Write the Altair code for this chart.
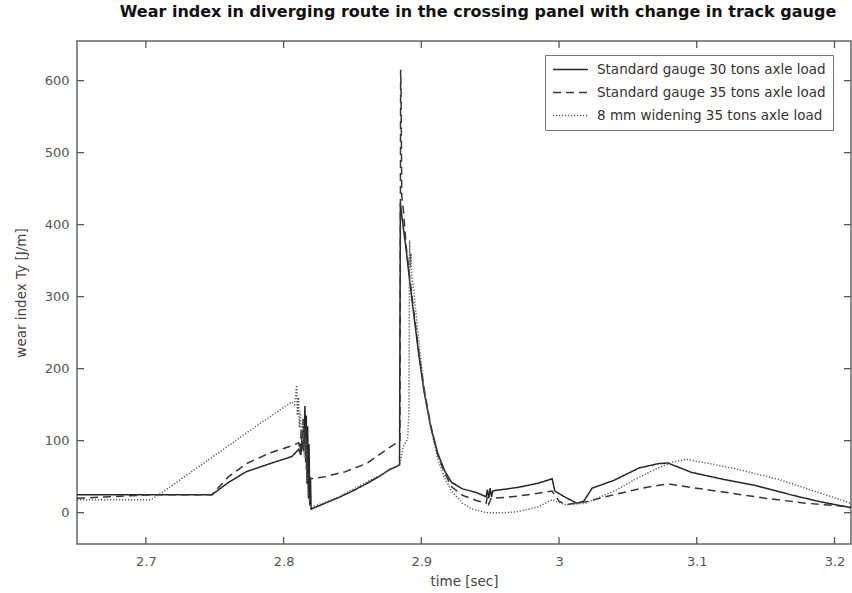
import altair as alt
import pandas as pd

# ---- series: time [sec] vs wear index Ty [J/m] ----
series_names = [
    "Standard gauge 30 tons axle load",
    "Standard gauge 35 tons axle load",
    "8 mm widening 35 tons axle load",
]

t_std30 = [2.65, 2.70, 2.748, 2.76, 2.773, 2.79, 2.806, 2.809, 2.811, 2.8125,
           2.8135, 2.8145, 2.8155, 2.816, 2.8165, 2.817, 2.8175, 2.818, 2.8185,
           2.819, 2.8195, 2.82, 2.83, 2.84, 2.85, 2.86, 2.87, 2.877, 2.882,
           2.8842, 2.8848, 2.886, 2.889, 2.892, 2.895, 2.898, 2.902, 2.907,
           2.912, 2.917, 2.922, 2.93, 2.94, 2.947, 2.948, 2.949, 2.950, 2.951,
           2.952, 2.954, 2.97, 2.985, 2.995, 2.997, 3.003, 3.013, 3.018, 3.024,
           3.04, 3.058, 3.072, 3.079, 3.096, 3.12, 3.142, 3.17, 3.19, 3.212]
ty_std30 = [25, 25, 25, 42, 57, 68, 78, 84, 88, 80,
            100, 85, 148, 70, 135, 40, 120, 20, 95,
            10, 50, 5, 13, 21, 30, 40, 51, 60, 64,
            66, 430, 410, 365, 315, 268, 222, 168, 118,
            82, 58, 42, 33, 28, 22, 32, 20, 34, 22,
            30, 31, 35, 41, 47, 30, 23, 13, 16, 34,
            45, 62, 68, 69, 56, 46, 38, 24, 15, 7]

t_std35 = [2.65, 2.705, 2.748, 2.76, 2.773, 2.79, 2.806, 2.811, 2.812, 2.8128,
           2.8135, 2.8142, 2.815, 2.8158, 2.8165, 2.817, 2.8175, 2.818, 2.819,
           2.82, 2.83, 2.845, 2.86, 2.875, 2.8845, 2.885, 2.8853, 2.8858, 2.887,
           2.889, 2.892, 2.895, 2.898, 2.902, 2.907, 2.912, 2.917, 2.922, 2.93,
           2.94, 2.947, 2.948, 2.949, 2.951, 2.953, 2.97, 2.985, 2.995, 3.0,
           3.005, 3.019, 3.04, 3.06, 3.079, 3.1, 3.118, 3.15, 3.18, 3.212]
ty_std35 = [20, 25, 25, 50, 68, 83, 93, 97, 85, 115,
            88, 130, 95, 120, 60, 100, 45, 55, 48,
            47, 50, 57, 68, 88, 100, 615, 590, 440, 420,
            370, 320, 272, 226, 172, 120, 80, 55, 36, 24,
            17, 13, 22, 12, 21, 20, 23, 27, 30, 16,
            11, 15, 25, 34, 40, 34, 29, 20, 13, 8]

t_wide35 = [2.65, 2.704, 2.72, 2.74, 2.76, 2.78, 2.80, 2.806, 2.808, 2.8095,
            2.810, 2.8108, 2.8115, 2.8122, 2.813, 2.814, 2.815, 2.816, 2.817,
            2.818, 2.819, 2.82, 2.83, 2.84, 2.85, 2.86, 2.87, 2.88, 2.8845,
            2.887, 2.89, 2.891, 2.8915, 2.892, 2.8925, 2.893, 2.895, 2.898,
            2.902, 2.907, 2.912, 2.917, 2.922, 2.93, 2.937, 2.947, 2.96, 2.969,
            2.985, 2.995, 3.0, 3.005, 3.019, 3.04, 3.058, 3.072, 3.082, 3.092,
            3.11, 3.13, 3.16, 3.19, 3.212]
ty_wide35 = [18, 18, 39, 66, 93, 120, 146, 154, 150, 177,
             135, 160, 118, 140, 100, 125, 78, 105, 55,
             30, 12, 8, 14, 22, 32, 42, 52, 62, 68,
             92, 102, 140, 378, 340, 360, 330, 300, 240,
             172, 115, 75, 48, 30, 13, 5, 0, 0, 1,
             8, 18, 14, 11, 13, 30, 49, 62, 70, 74,
             68, 60, 46, 27, 13]

x_ticks = [2.7, 2.8, 2.9, 3.0, 3.1, 3.2]
y_ticks = [0, 100, 200, 300, 400, 500, 600]

line_colors = ["#262626", "#353535", "#5a5a5a"]
line_dashes = [[1, 0], [8, 5], [1.2, 1.8]]

# ---- tidy table for the lines ----
rows = []
for name, ts, vs in zip(series_names,
                        [t_std30, t_std35, t_wide35],
                        [ty_std30, ty_std35, ty_wide35]):
    for i, (t, v) in enumerate(zip(ts, vs)):
        rows.append({"series": name, "time": t, "ty": v, "order": i})
df = pd.DataFrame(rows)

W, H = 774, 503
TICK = 7
FONT = "DejaVu Sans"

x_scale = alt.Scale(domain=[2.65, 3.212], nice=False, zero=False)
y_scale = alt.Scale(domain=[-43.5, 655], nice=False, zero=False)

x_axis = alt.Axis(values=x_ticks, format="~g", title="time [sec]",
                  labelPadding=11, titlePadding=6)
y_axis = alt.Axis(values=y_ticks, format="d", title="wear index Ty [J/m]",
                  labelPadding=8, titlePadding=16)

legend = alt.Legend(
    title=None, orient="none", legendX=468, legendY=14,
    strokeColor="#777", fillColor="white", padding=7,
    symbolType="stroke", symbolSize=1225, symbolStrokeWidth=1.3,
    labelFontSize=13.5, labelColor="#333", labelFont=FONT,
    labelOffset=8, labelLimit=400, rowPadding=8, clipHeight=15,
)

lines = alt.Chart(df).mark_line(strokeWidth=1.5).encode(
    x=alt.X("time:Q", scale=x_scale, axis=x_axis),
    y=alt.Y("ty:Q", scale=y_scale, axis=y_axis),
    color=alt.Color("series:N", scale=alt.Scale(domain=series_names, range=line_colors),
                    legend=legend),
    strokeDash=alt.StrokeDash("series:N",
                              scale=alt.Scale(domain=series_names, range=line_dashes),
                              legend=legend),
    detail="series:N",
    order="order:Q",
)

# inward tick marks on all four sides of the box
yt = pd.DataFrame({"v": y_ticks})
xt = pd.DataFrame({"v": x_ticks})
tick_color = "#555"
left_ticks = alt.Chart(yt).mark_rule(color=tick_color, strokeWidth=1.3).encode(
    y=alt.Y("v:Q", scale=y_scale, axis=y_axis), x=alt.value(0), x2=alt.value(TICK))
right_ticks = alt.Chart(yt).mark_rule(color=tick_color, strokeWidth=1.3).encode(
    y=alt.Y("v:Q", scale=y_scale, axis=y_axis), x=alt.value(W - TICK), x2=alt.value(W))
bottom_ticks = alt.Chart(xt).mark_rule(color=tick_color, strokeWidth=1.3).encode(
    x=alt.X("v:Q", scale=x_scale, axis=x_axis), y=alt.value(H - TICK), y2=alt.value(H))
top_ticks = alt.Chart(xt).mark_rule(color=tick_color, strokeWidth=1.3).encode(
    x=alt.X("v:Q", scale=x_scale, axis=x_axis), y=alt.value(0), y2=alt.value(TICK))

chart = alt.layer(lines, left_ticks, right_ticks, bottom_ticks, top_ticks).properties(
    width=W, height=H,
    title=alt.TitleParams(
        "Wear index in diverging route in the crossing panel with change in track gauge",
        fontSize=16, fontWeight="bold", font=FONT, color="#111",
        anchor="middle", offset=20, dx=14,
    ),
    autosize=alt.AutoSizeParams(type="none"),
    padding={"left": 77, "top": 41, "right": 1, "bottom": 49},
    background="white",
).configure_view(
    stroke="#666", strokeWidth=1.5
).configure_axis(
    domain=False, ticks=False, grid=False,
    labelFont=FONT, labelFontSize=13, labelColor="#555",
    titleFont=FONT, titleFontSize=13.5, titleColor="#444", titleFontWeight="normal",
)

chart.save("out.html", embed_options={"renderer": "svg", "actions": False})
